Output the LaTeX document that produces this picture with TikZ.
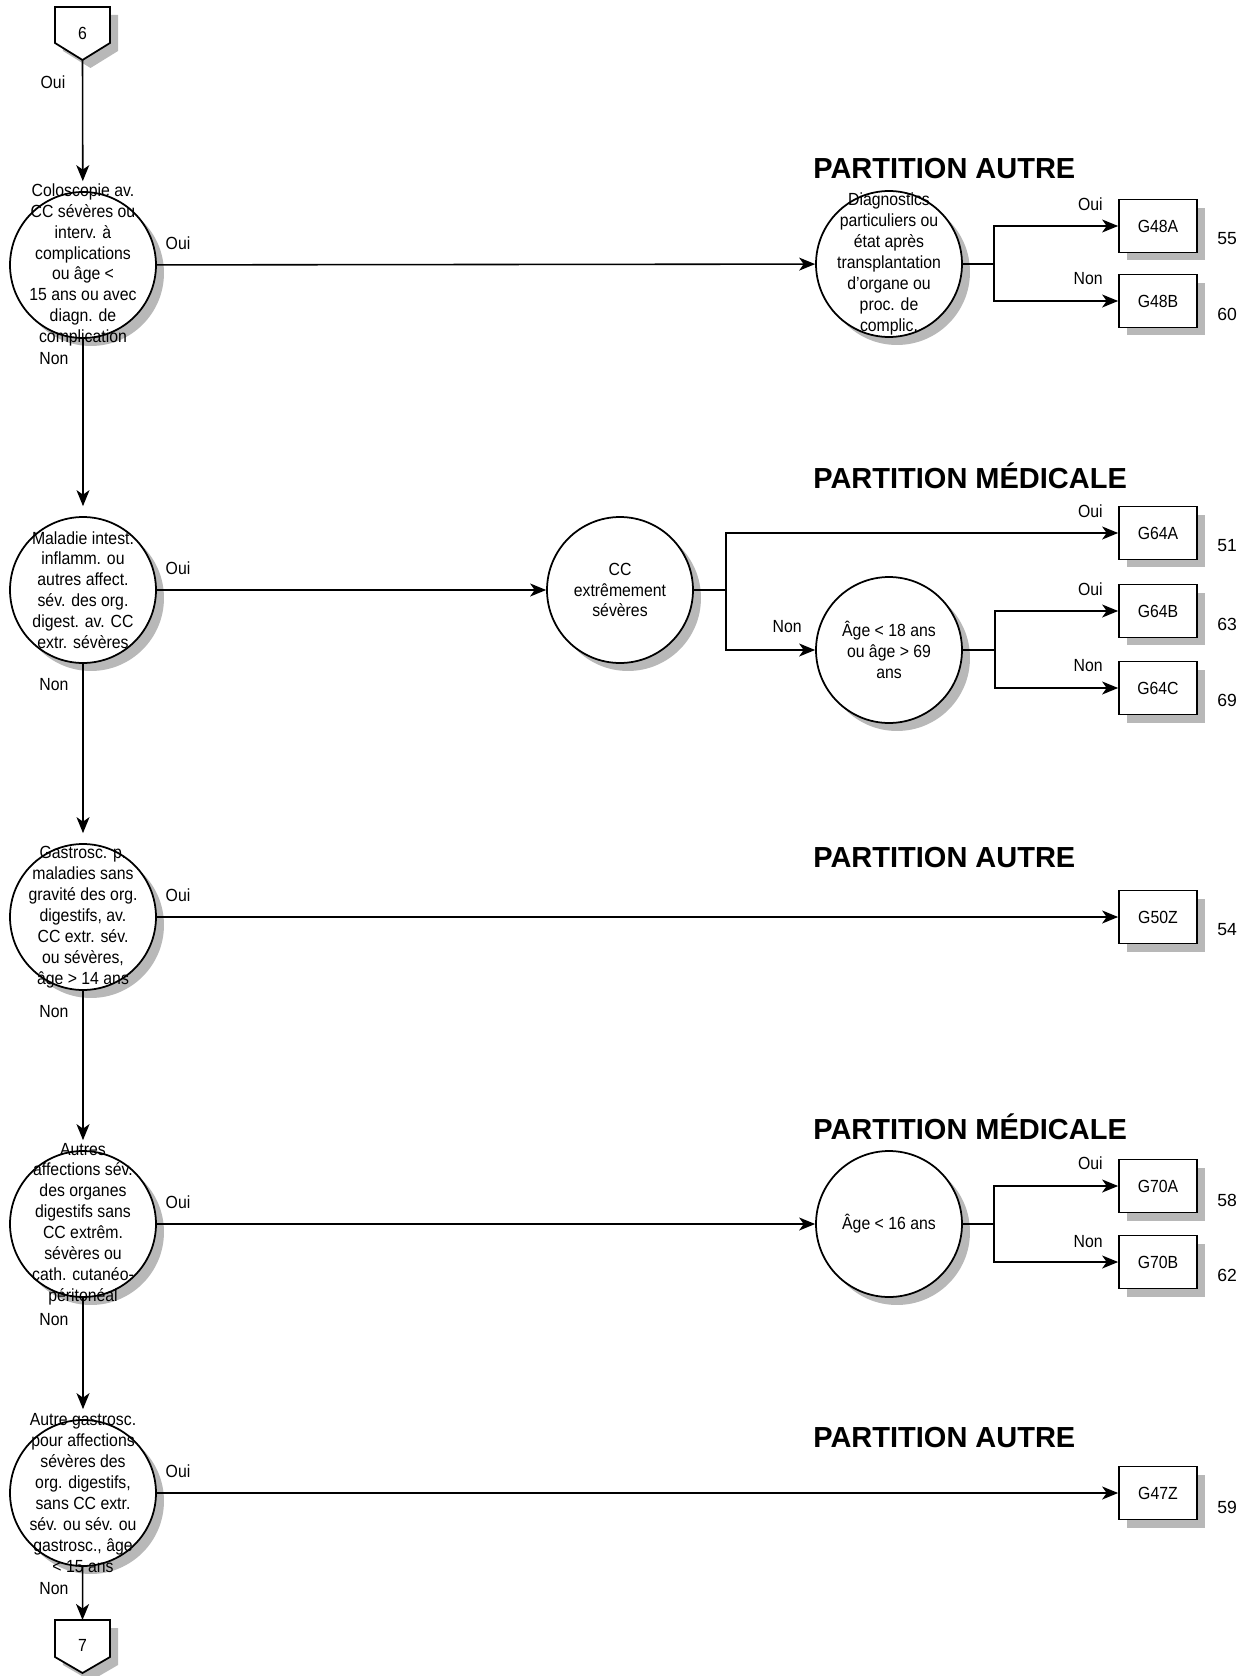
\documentclass[tikz,border=0pt]{standalone}
\usepackage{fontspec}
\setmainfont{Liberation Sans}
\newfontfamily\narrowfont[FakeStretch=0.9]{Liberation Sans}
\usetikzlibrary{arrows.meta,shadows,positioning}

\begin{document}
\begin{tikzpicture}[x=0.02cm,y=-0.02cm,
  boxshadow/.style={drop shadow={shadow xshift=0.16cm,shadow yshift=-0.16cm,fill=black!28,opacity=1}},
  decision/.style={circle,draw,line width=1pt,fill=white,minimum size=2.92cm,inner sep=0pt,boxshadow},
  dtext/.style={font=\narrowfont\fontsize{10}{11.9}\selectfont,align=center,inner sep=0pt},
  leaf/.style={rectangle,draw,line width=1pt,fill=white,minimum width=1.56cm,minimum height=1.06cm,inner sep=0pt,font=\narrowfont\fontsize{10}{12}\selectfont,boxshadow},
  wire/.style={line width=0.9pt},
  flow/.style={wire,-{Stealth[length=0.32cm,width=0.26cm,inset=0.09cm]}},
  yesno/.style={font=\narrowfont\fontsize{10}{12}\selectfont,inner sep=0pt},
  score/.style={font=\fontsize{10}{12}\selectfont,inner sep=0pt,anchor=west},
  parttitle/.style={font=\bfseries\fontsize{16.5}{20}\selectfont,inner sep=0pt,anchor=west}]
\useasboundingbox (0,0) rectangle (1255,1676);

% off-page connectors
\draw[line width=1pt,fill=white,boxshadow] (55,7) -- (110,7) -- (110,43) -- (82.5,60) -- (55,43) -- cycle;
\node[dtext] (p6) at (82.5,33) {6};
\coordinate (p6tip) at (82.5,60);
\draw[line width=1pt,fill=white,boxshadow] (55,1620) -- (110,1620) -- (110,1657) -- (82.5,1673) -- (55,1657) -- cycle;
\node[dtext] (p7) at (82.5,1645) {7};
\coordinate (p7top) at (82.5,1620);

% left column
\node[decision] (d1) at (83,265) {};
\node[dtext] (d1t) at (d1) {Coloscopie av.\\CC sévères ou\\interv. à\\complications\\ou âge <\\15 ans ou avec\\diagn. de\\complication};
\node[decision] (d2) at (83,590) {};
\node[dtext] (d2t) at (d2) {Maladie intest.\\inflamm. ou\\autres affect.\\sév. des org.\\digest. av. CC\\extr. sévères};
\node[decision] (d3) at (83,917) {};
\node[dtext] (d3t) at (d3) {Gastrosc. p.\\maladies sans\\gravité des org.\\digestifs, av.\\CC extr. sév.\\ou sévères,\\âge > 14 ans};
\node[decision] (d4) at (83,1224) {};
\node[dtext] (d4t) at (d4) {Autres\\affections sév.\\des organes\\digestifs sans\\CC extrêm.\\sévères ou\\cath. cutanéo-\\péritonéal};
\node[decision] (d5) at (83,1493) {};
\node[dtext] (d5t) at (d5) {Autre gastrosc.\\pour affections\\sévères des\\org. digestifs,\\sans CC extr.\\sév. ou sév. ou\\gastrosc., âge\\< 15 ans};

\draw[flow,shorten >=0.2cm] (p6tip) -- (d1);
\foreach \a/\b in {d1/d2,d2/d3,d3/d4,d4/d5}
  \draw[flow,shorten >=0.2cm] (\a) -- (\b);
\draw[flow] (d5) -- (p7top);

\node[yesno] (o0) at (53,82) {Oui};
\node[yesno] (o1) at (178,243) {Oui};
\node[yesno] (n1) at (54,359) {Non};
\node[yesno] (o2) at (178,568) {Oui};
\node[yesno] (n2) at (54,685) {Non};
\node[yesno] (o3) at (178,895) {Oui};
\node[yesno] (n3) at (54,1012) {Non};
\node[yesno] (o4) at (178,1202) {Oui};
\node[yesno] (n4) at (54,1320) {Non};
\node[yesno] (o5) at (178,1471) {Oui};
\node[yesno] (n5) at (54,1589) {Non};

% partition autre (1)
\node[parttitle] (t1) at (813,169) {PARTITION AUTRE};
\node[decision] (diag) at (889,264) {};
\node[dtext] (diagt) at (diag) {Diagnostics\\particuliers ou\\état après\\transplantation\\d’organe ou\\proc. de\\complic.};
\node[leaf] (g48a) at (1158,226) {G48A};
\node[leaf] (g48b) at (1158,301) {G48B};
\draw[flow] (d1) -- (diag);
\draw[flow] (diag.east) -- ++(31,0) |- (g48a);
\draw[flow] (diag.east) -- ++(31,0) |- (g48b);
\node[yesno,anchor=east] (o48) at (1103,204) {Oui};
\node[yesno,anchor=east] (n48) at (1103,279) {Non};
\node[score] (s48a) at (1217,239) {55};
\node[score] (s48b) at (1217,314) {60};

% partition medicale (2)
\node[parttitle] (t2) at (813,476) {PARTITION MÉDICALE};
\node[decision] (cc) at (620,590) {};
\node[dtext] (cct) at (cc) {CC\\extrêmement\\sévères};
\node[decision] (age18) at (889,650) {};
\node[dtext] (age18t) at (age18) {Âge < 18 ans\\ou âge > 69\\ans};
\node[leaf] (g64a) at (1158,533) {G64A};
\node[leaf] (g64b) at (1158,611) {G64B};
\node[leaf] (g64c) at (1158,688) {G64C};
\draw[flow] (d2) -- (cc);
\draw[flow] (cc.east) -- ++(32,0) |- (g64a);
\draw[flow] (cc.east) -- ++(32,0) |- (age18);
\draw[flow] (age18.east) -- ++(32,0) |- (g64b);
\draw[flow] (age18.east) -- ++(32,0) |- (g64c);
\node[yesno,anchor=east] (o64a) at (1103,511) {Oui};
\node[yesno,anchor=east] (n18) at (802,627) {Non};
\node[yesno,anchor=east] (o64b) at (1103,589) {Oui};
\node[yesno,anchor=east] (n64c) at (1103,666) {Non};
\node[score] (s64a) at (1217,546) {51};
\node[score] (s64b) at (1217,624) {63};
\node[score] (s64c) at (1217,700) {69};

% partition autre (3)
\node[parttitle] (t3) at (813,858) {PARTITION AUTRE};
\node[leaf] (g50z) at (1158,917) {G50Z};
\draw[flow] (d3) -- (g50z);
\node[score] (s50z) at (1217,930) {54};

% partition medicale (4)
\node[parttitle] (t4) at (813,1127) {PARTITION MÉDICALE};
\node[decision] (age16) at (889,1224) {};
\node[dtext] (age16t) at (age16) {Âge < 16 ans};
\node[leaf] (g70a) at (1158,1186) {G70A};
\node[leaf] (g70b) at (1158,1262) {G70B};
\draw[flow] (d4) -- (age16);
\draw[flow] (age16.east) -- ++(31,0) |- (g70a);
\draw[flow] (age16.east) -- ++(31,0) |- (g70b);
\node[yesno,anchor=east] (o70) at (1103,1163) {Oui};
\node[yesno,anchor=east] (n70) at (1103,1242) {Non};
\node[score] (s70a) at (1217,1200) {58};
\node[score] (s70b) at (1217,1275) {62};

% partition autre (5)
\node[parttitle] (t5) at (813,1438) {PARTITION AUTRE};
\node[leaf] (g47z) at (1158,1493) {G47Z};
\draw[flow] (d5) -- (g47z);
\node[score] (s47z) at (1217,1507) {59};

\end{tikzpicture}
\end{document}
